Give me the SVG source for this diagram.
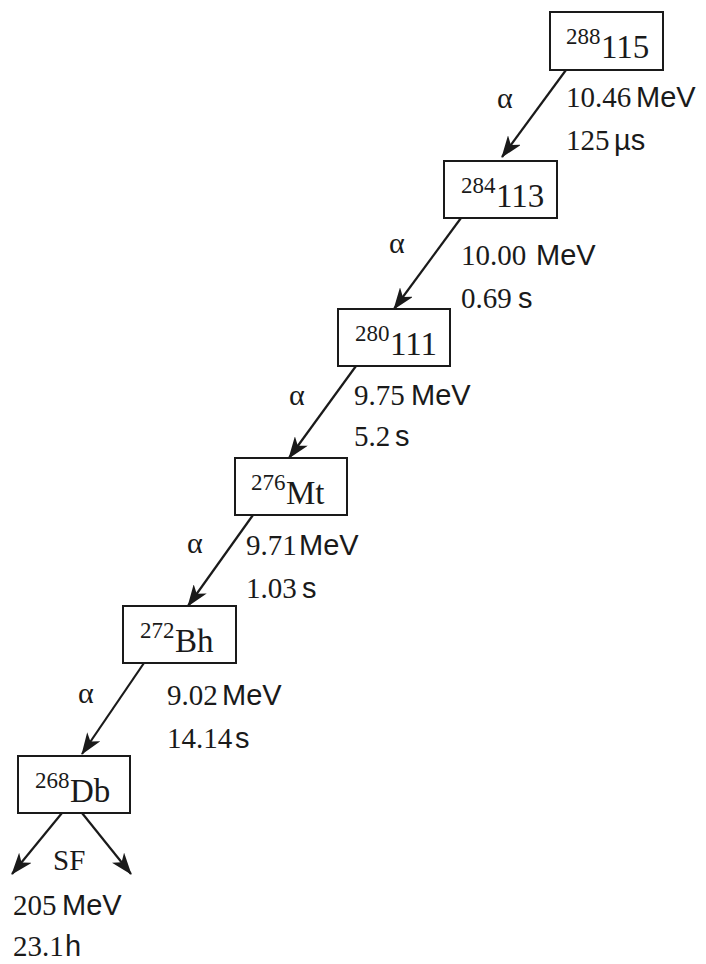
<svg xmlns="http://www.w3.org/2000/svg" width="706" height="964" viewBox="0 0 706 964">
<style>
.box{fill:#fff;stroke:#1a1a1a;stroke-width:2}
.sup{font-family:"Liberation Serif","Times New Roman",serif;font-size:23px;fill:#1a1a1a}
.main{font-family:"Liberation Serif","Times New Roman",serif;font-size:33px;fill:#1a1a1a}
text.num{font-family:"Liberation Serif","Times New Roman",serif;font-size:29px;fill:#1a1a1a}
text.unit{font-family:"Liberation Sans",Arial,sans-serif;font-size:29px;fill:#1a1a1a}
.alpha{font-family:"Liberation Serif","Times New Roman",serif;font-size:30px;fill:#1a1a1a}
.conn line{stroke:#1a1a1a;stroke-width:2.2;fill:none}
</style>
<defs>
<marker id="ah" viewBox="0 0 22 16" refX="21" refY="8" markerWidth="22" markerHeight="16" markerUnits="userSpaceOnUse" orient="auto">
<path d="M0,0 L22,8 L0,16 L6,8 Z" fill="#1a1a1a"/>
</marker>
</defs>
<rect width="706" height="964" fill="#fff"/>
<g class="conn">
<line x1="566" y1="70" x2="502" y2="157" marker-end="url(#ah)"/>
<line x1="461" y1="218" x2="394" y2="309" marker-end="url(#ah)"/>
<line x1="356" y1="366" x2="289" y2="458" marker-end="url(#ah)"/>
<line x1="253" y1="515" x2="188" y2="606" marker-end="url(#ah)"/>
<line x1="144" y1="663" x2="82" y2="754" marker-end="url(#ah)"/>
<line x1="62" y1="813" x2="12" y2="874" marker-end="url(#ah)"/>
<line x1="82" y1="813" x2="131" y2="874" marker-end="url(#ah)"/>
</g>
<g id="n288">
<rect class="box" x="550" y="12" width="113" height="58"/>
<text class="sup" x="566" y="44">288</text>
<text class="main" x="601" y="58">115</text>
</g>
<g id="n284">
<rect class="box" x="444" y="161" width="113" height="57"/>
<text class="sup" x="461" y="193">284</text>
<text class="main" x="496" y="207">113</text>
</g>
<g id="n280">
<rect class="box" x="338" y="309" width="112" height="57"/>
<text class="sup" x="355" y="341">280</text>
<text class="main" x="390" y="355">111</text>
</g>
<g id="n276">
<rect class="box" x="235" y="458" width="112" height="57"/>
<text class="sup" x="251" y="490">276</text>
<text class="main" x="286" y="504">Mt</text>
</g>
<g id="n272">
<rect class="box" x="123" y="606" width="113" height="57"/>
<text class="sup" x="140" y="638">272</text>
<text class="main" x="175" y="652">Bh</text>
</g>
<g id="n268">
<rect class="box" x="18" y="756" width="112" height="57"/>
<text class="sup" x="35" y="788">268</text>
<text class="main" x="70" y="802">Db</text>
</g>
<g id="labels" fill="#1a1a1a" font-size="29">
<text class="alpha" x="497" y="108">α</text>
<text class="num" font-family="Liberation Serif, serif" x="566" y="107">10.46</text>
<text class="unit" x="636" y="107">MeV</text>
<text class="num" font-family="Liberation Serif, serif" x="566" y="150">125</text>
<text class="unit" x="614" y="150">µs</text>
<text class="alpha" x="389" y="253">α</text>
<text class="num" font-family="Liberation Serif, serif" x="461" y="265">10.00</text>
<text class="unit" x="536" y="265">MeV</text>
<text class="num" font-family="Liberation Serif, serif" x="461" y="308">0.69</text>
<text class="unit" x="518" y="308">s</text>
<text class="alpha" x="289" y="405">α</text>
<text class="num" font-family="Liberation Serif, serif" x="354" y="405">9.75</text>
<text class="unit" x="411" y="405">MeV</text>
<text class="num" font-family="Liberation Serif, serif" x="354" y="446">5.2</text>
<text class="unit" x="395" y="446">s</text>
<text class="alpha" x="187" y="553">α</text>
<text class="num" font-family="Liberation Serif, serif" x="246" y="555">9.71</text>
<text class="unit" x="299" y="555">MeV</text>
<text class="num" font-family="Liberation Serif, serif" x="246" y="598">1.03</text>
<text class="unit" x="302" y="598">s</text>
<text class="alpha" x="78" y="703">α</text>
<text class="num" font-family="Liberation Serif, serif" x="167" y="705">9.02</text>
<text class="unit" x="222" y="705">MeV</text>
<text class="num" font-family="Liberation Serif, serif" x="167" y="748">14.14</text>
<text class="unit" x="235" y="748">s</text>
<text class="num" x="53" y="870">SF</text>
<text class="num" font-family="Liberation Serif, serif" x="13" y="915">205</text>
<text class="unit" x="62" y="915">MeV</text>
<text class="num" font-family="Liberation Serif, serif" x="13" y="956">23.1</text>
<text class="unit" x="65" y="956">h</text>
</g>
</svg>
